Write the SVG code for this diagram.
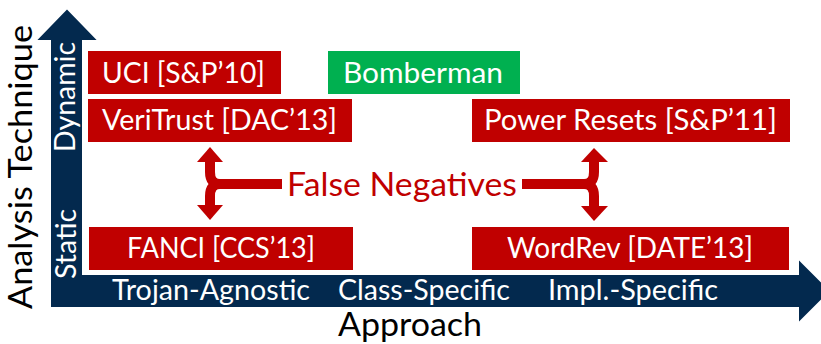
<svg xmlns="http://www.w3.org/2000/svg" width="821" height="344" viewBox="0 0 821 344">
<style>
.red{fill:#C00000}
.green{fill:#00B050}
.bt{font-family:Lato,"Open Sans","Liberation Sans",sans-serif;font-size:28px;fill:#FFFFFF}
.big{font-family:Lato,"Open Sans","Liberation Sans",sans-serif;font-size:33px}
.axis{fill:#03294E;stroke:#FFFFFF;stroke-width:2}
.brace{fill:none;stroke:#C00000;stroke-width:10}
.head{fill:#C00000}
</style>
<rect width="821" height="344" fill="#FFFFFF"/>
<g id="axes">
<path class="axis" d="M50,308 L50,41 L35,41 L67,8 L99,41 L83,41 L83,274 L798,274 L798,258 L831,291 L798,324 L798,308 Z"/>
<text class="bt" transform="translate(75,97) rotate(-90)" text-anchor="middle" textLength="110" lengthAdjust="spacingAndGlyphs">Dynamic</text>
<text class="bt" transform="translate(75.5,244) rotate(-90)" text-anchor="middle" textLength="70" lengthAdjust="spacingAndGlyphs">Static</text>
<text class="bt" x="112" y="300" textLength="198" lengthAdjust="spacingAndGlyphs">Trojan-Agnostic</text>
<text class="bt" x="338" y="300" textLength="172" lengthAdjust="spacingAndGlyphs">Class-Specific</text>
<text class="bt" x="548" y="300" textLength="170" lengthAdjust="spacingAndGlyphs">Impl.-Specific</text>
<text class="big" fill="#000000" transform="translate(32,167) rotate(-90)" text-anchor="middle" textLength="284" lengthAdjust="spacingAndGlyphs">Analysis Technique</text>
<text class="big" fill="#000000" x="338" y="336" textLength="144" lengthAdjust="spacingAndGlyphs">Approach</text>
</g>
<g id="uci">
<rect class="red" x="88" y="51" width="193" height="43"/>
<text class="bt" x="102" y="83" textLength="163" lengthAdjust="spacingAndGlyphs">UCI [S&amp;P’10]</text>
</g>
<g id="bomberman">
<rect class="green" x="328" y="51" width="192" height="43"/>
<text class="bt" x="343" y="83" textLength="160" lengthAdjust="spacingAndGlyphs">Bomberman</text>
</g>
<g id="veritrust">
<rect class="red" x="88" y="99" width="264" height="43"/>
<text class="bt" x="102" y="130" textLength="235" lengthAdjust="spacingAndGlyphs">VeriTrust [DAC’13]</text>
</g>
<g id="powerresets">
<rect class="red" x="472" y="99" width="318" height="43"/>
<text class="bt" x="484" y="130" textLength="293" lengthAdjust="spacingAndGlyphs">Power Resets [S&amp;P’11]</text>
</g>
<g id="fanci">
<rect class="red" x="89" y="227" width="264" height="43"/>
<text class="bt" x="127" y="258" textLength="188" lengthAdjust="spacingAndGlyphs">FANCI [CCS’13]</text>
</g>
<g id="wordrev">
<rect class="red" x="472" y="227" width="317" height="43"/>
<text class="bt" x="507" y="258" textLength="246" lengthAdjust="spacingAndGlyphs">WordRev [DATE’13]</text>
</g>
<g id="falsenegatives">
<text class="big" fill="#C00000" x="287" y="196" textLength="230" lengthAdjust="spacingAndGlyphs">False Negatives</text>
</g>
<g id="connectors">
<path class="brace" d="M210,161 L210,172 Q210,184 220,184 L282,184 M210,206 L210,196 Q210,184 220,184"/>
<polygon class="head" points="197,162 210,147 223,162"/>
<polygon class="head" points="197,205 210,220 223,205"/>
<path class="brace" d="M594,161 L594,172 Q594,184 584,184 L522,184 M594,206 L594,196 Q594,184 584,184"/>
<polygon class="head" points="581,162 594,148 608,162"/>
<polygon class="head" points="581,206 594,221 608,206"/>
</g>
</svg>
